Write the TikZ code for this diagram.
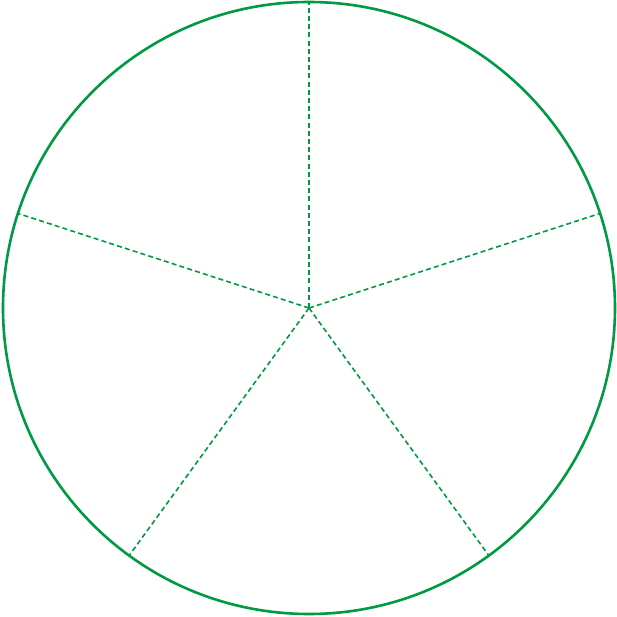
\documentclass[tikz,border=0pt]{standalone}
\usetikzlibrary{calc}
\definecolor{leaf}{HTML}{009A44}
\tikzset{
  rim/.style={draw=leaf,line width=1.3pt},
  spoke/.style={draw=leaf,line width=0.8pt,dash pattern=on 2.5pt off 1.6pt}
}
\begin{document}
\begin{tikzpicture}[x=0.5pt,y=0.5pt]
    \useasboundingbox (0,0) rectangle (617,617);
    \coordinate (c) at (309,309);
    \draw[rim] (c) circle[radius=306];
    \foreach \ang/\nm in {90/p1,18/p2,-54/p3,-126/p4,162/p5}
      \coordinate (\nm) at ($(c)+(\ang:306)$);
    \foreach \nm in {p1,p2,p3,p4,p5} \draw[spoke] (c) -- (\nm);
\end{tikzpicture}
\end{document}
